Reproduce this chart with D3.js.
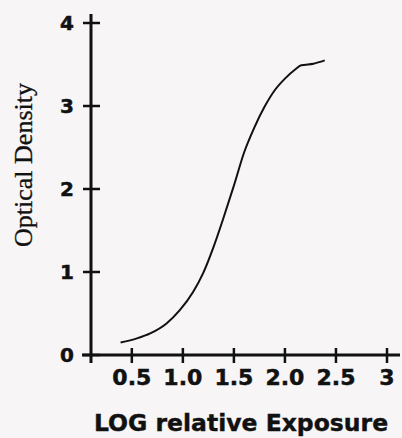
<!DOCTYPE html>
<html lang="en">
<head>
<meta charset="UTF-8">
<title>Optical Density vs LOG relative Exposure</title>
<script src="https://d3js.org/d3.v7.min.js"></script>
<style>
  * { margin: 0; padding: 0; box-sizing: border-box; }
  body { background: #f7f5f5; width: 402px; height: 438px; overflow: hidden; }
  .tick-label { font-family: 'DejaVu Sans', sans-serif; font-weight: 700; fill: #111; stroke: #111; stroke-width: 0.5px; }
  .axis-title { font-family: 'DejaVu Sans', sans-serif; font-weight: 700; fill: #111; stroke: #111; stroke-width: 0.4px; }
  .y-title { font-family: 'Liberation Serif', serif; fill: #111; stroke: #111; stroke-width: 0.3px; }
</style>
</head>
<body>
<div id="chart"></div>
<script>
  // characteristic curve
  const logExposure = [0.39, 0.55, 0.68, 0.84, 0.97, 1.10, 1.20, 1.30, 1.40, 1.50, 1.60, 1.70, 1.80, 1.90, 2.00, 2.10, 2.16, 2.28, 2.39];
  const density     = [0.15, 0.20, 0.26, 0.38, 0.54, 0.76, 0.99, 1.30, 1.66, 2.04, 2.44, 2.74, 2.99, 3.19, 3.33, 3.44, 3.49, 3.51, 3.55];

  const xTicks = [0.5, 1.0, 1.5, 2.0, 2.5, 3];
  const xTickLabels = ["0.5", "1.0", "1.5", "2.0", "2.5", "3"];
  const yTicks = [0, 1, 2, 3, 4];

  const W = 402, H = 438;

  const svg = d3.select("#chart").append("svg")
      .attr("width", W)
      .attr("height", H);

  // x axis starts at 0.1 where it meets the y axis
  const x = d3.scaleLinear().domain([0.1, 3]).range([91, 387]);
  const y = d3.scaleLinear().domain([0, 4]).range([355, 23]);

  const axisCol = "#111";
  const tickHalf = 8;

  // y axis line (runs a little past both ends)
  svg.append("line")
      .attr("x1", x(0.1)).attr("x2", x(0.1))
      .attr("y1", y(4) - 9).attr("y2", y(0) + tickHalf)
      .attr("stroke", axisCol).attr("stroke-width", 3);

  // x axis line
  svg.append("line")
      .attr("x1", x(0.1) - 9).attr("x2", x(3) + 13)
      .attr("y1", y(0)).attr("y2", y(0))
      .attr("stroke", axisCol).attr("stroke-width", 3);

  // y ticks cross the axis
  svg.selectAll(".ytick")
    .data(yTicks)
    .join("line")
      .attr("class", "ytick")
      .attr("x1", x(0.1) - tickHalf).attr("x2", x(0.1) + tickHalf + 1)
      .attr("y1", d => y(d)).attr("y2", d => y(d))
      .attr("stroke", axisCol).attr("stroke-width", 2.5);

  svg.selectAll(".ylab")
    .data(yTicks)
    .join("text")
      .attr("class", "tick-label")
      .attr("x", 74)
      .attr("y", d => y(d) + 7)
      .attr("text-anchor", "end")
      .style("font-size", "20px")
      .text(d => d);

  // x ticks
  svg.selectAll(".xtick")
    .data(xTicks)
    .join("line")
      .attr("class", "xtick")
      .attr("x1", d => x(d)).attr("x2", d => x(d))
      .attr("y1", y(0) - 7).attr("y2", y(0) + tickHalf)
      .attr("stroke", axisCol).attr("stroke-width", 2.5);

  svg.selectAll(".xlab")
    .data(xTicks)
    .join("text")
      .attr("class", "tick-label")
      .attr("x", d => x(d))
      .attr("y", 385)
      .attr("text-anchor", "middle")
      .style("font-size", "22px")
      .text((d, i) => xTickLabels[i]);

  // axis titles
  svg.append("text")
      .attr("class", "axis-title")
      .attr("x", 241)
      .attr("y", 431)
      .attr("text-anchor", "middle")
      .style("font-size", "23.5px")
      .text("LOG relative Exposure");

  svg.append("text")
      .attr("class", "y-title")
      .attr("transform", "translate(32,165) rotate(-90)")
      .attr("text-anchor", "middle")
      .style("font-size", "26px")
      .text("Optical  Density");

  // the curve
  const pts = logExposure.map((v, i) => [v, density[i]]);
  const line = d3.line()
      .x(d => x(d[0]))
      .y(d => y(d[1]))
      .curve(d3.curveMonotoneX);

  svg.append("path")
      .datum(pts)
      .attr("d", line)
      .attr("fill", "none")
      .attr("stroke", "#111")
      .attr("stroke-width", 2);
</script>
</body>
</html>
